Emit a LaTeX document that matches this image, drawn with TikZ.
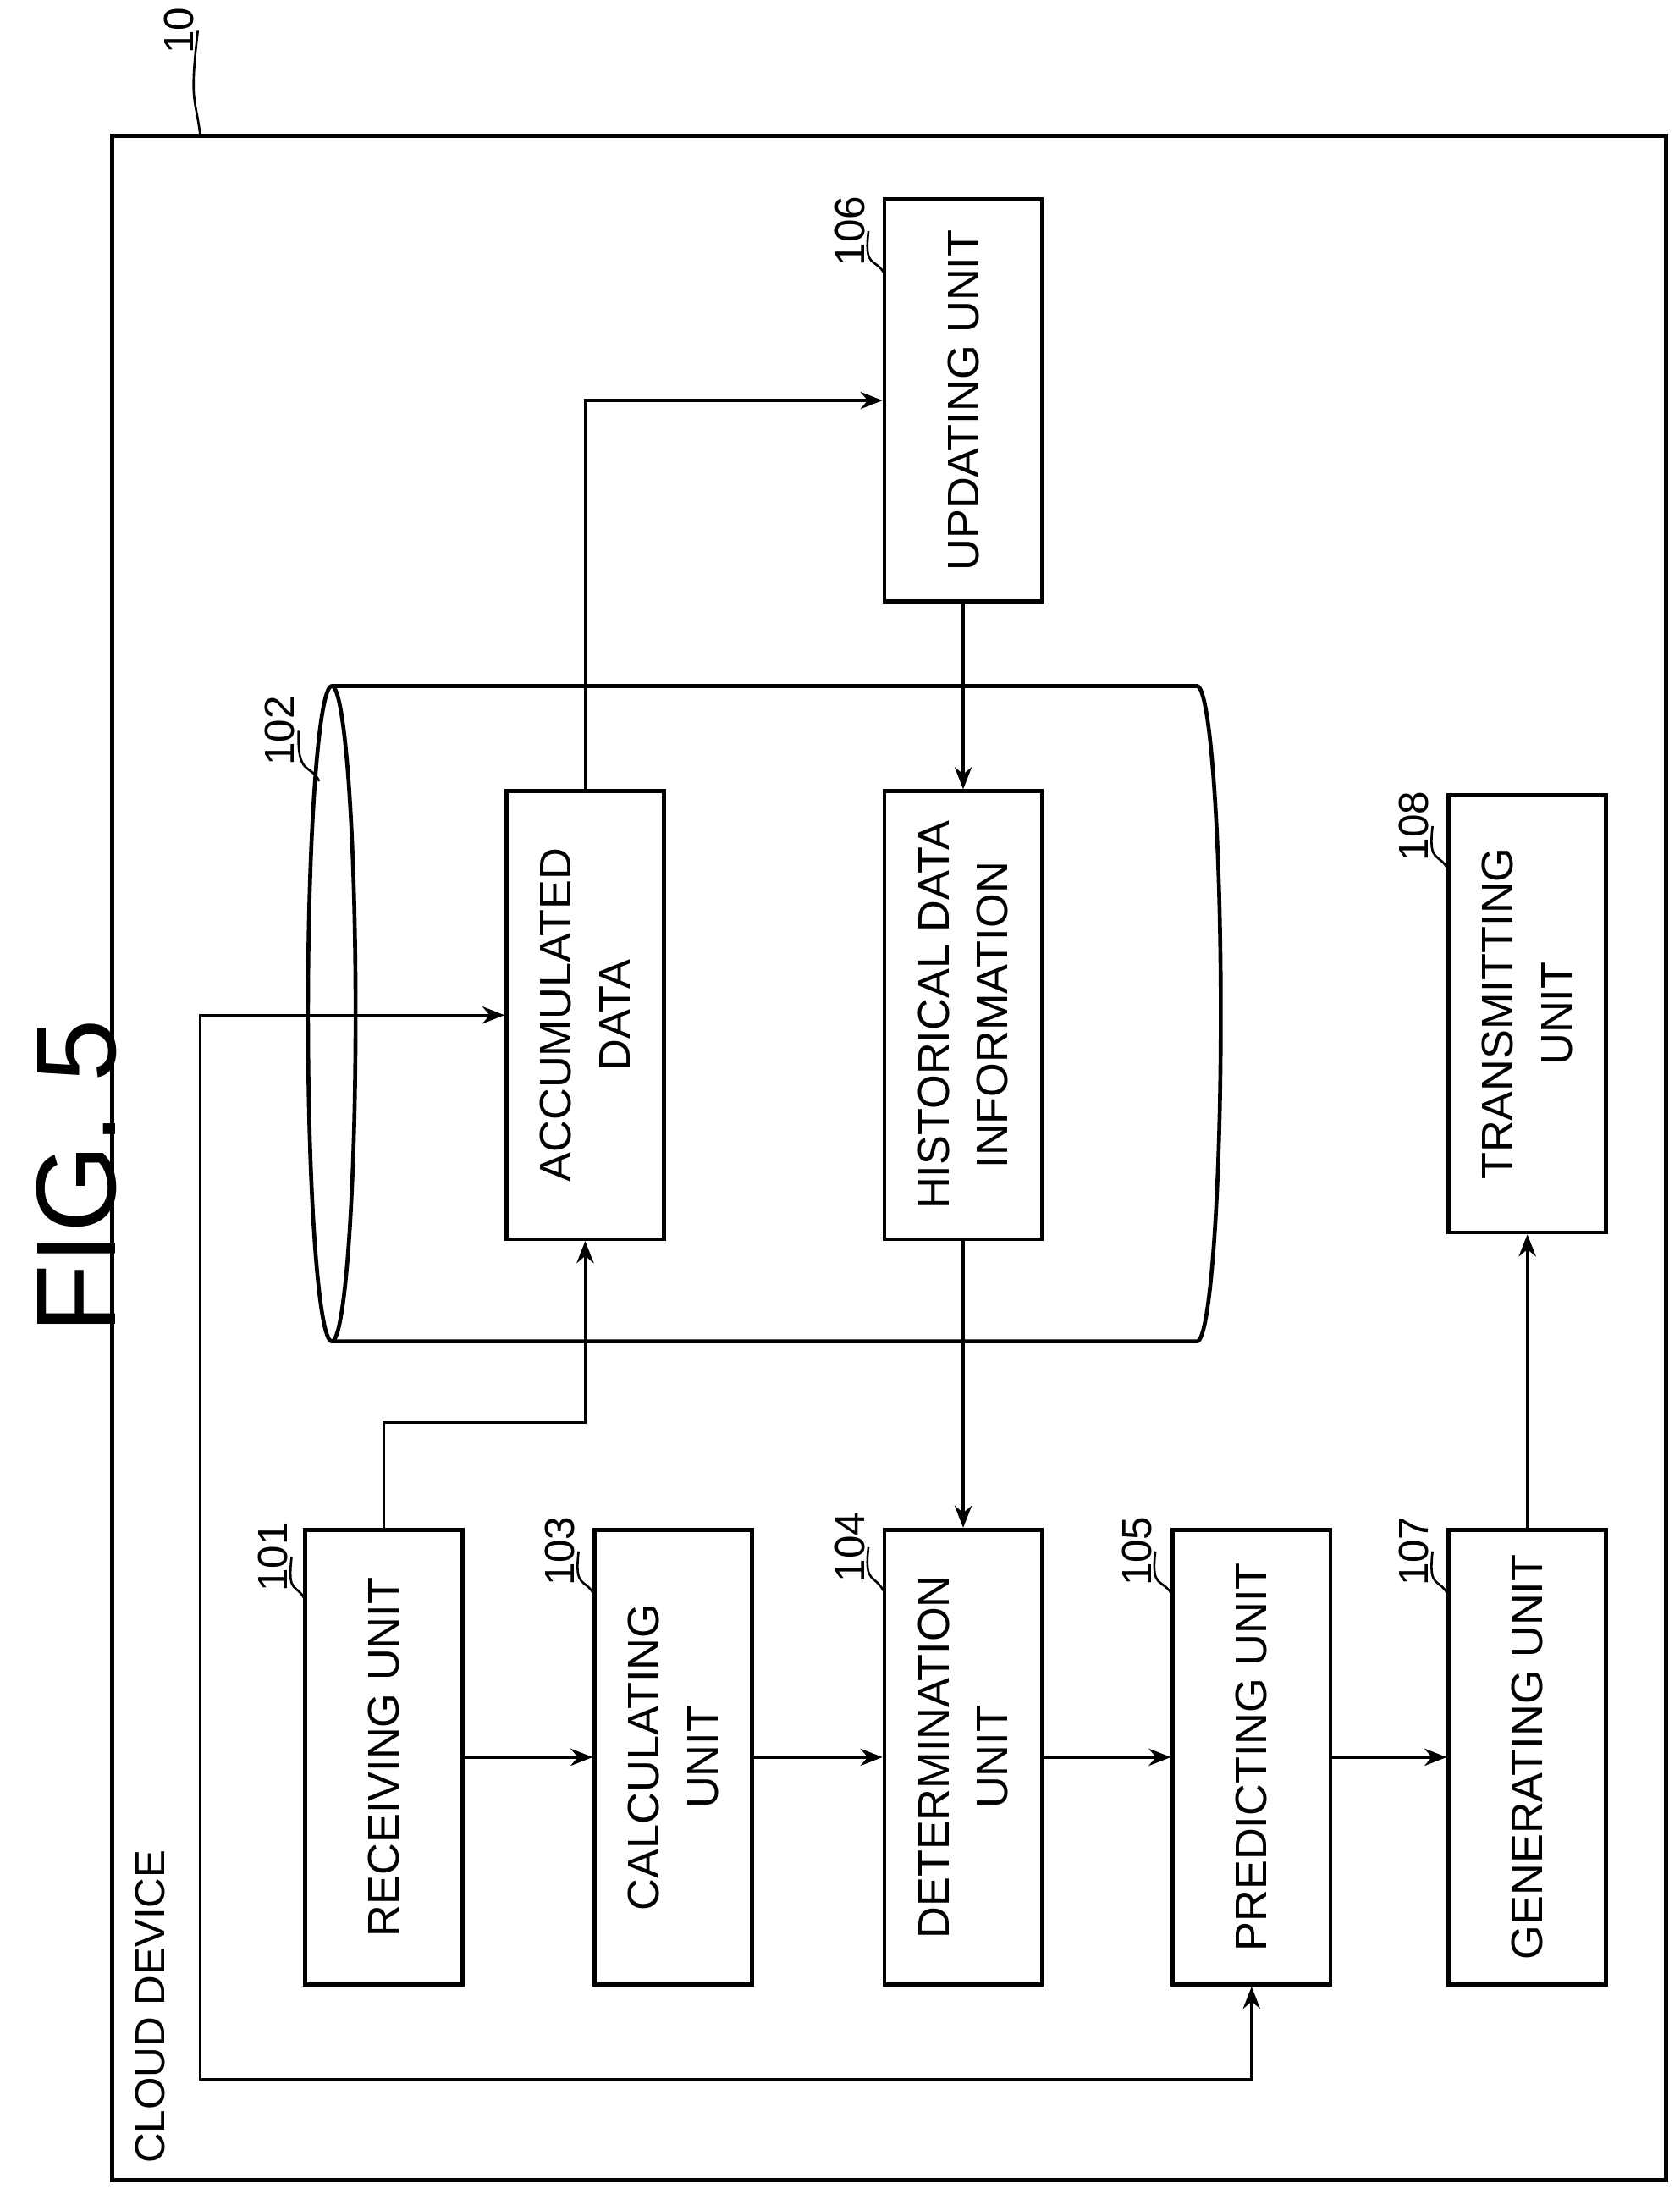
\documentclass[tikz,border=0pt]{standalone}
\usepackage{fontspec}
\setmainfont{Liberation Sans}
\usetikzlibrary{arrows.meta}

\begin{document}
\begin{tikzpicture}[x=0.02cm, y=-0.02cm, line width=1.1pt]
    % Define styles
    \tikzset{
        unit/.style={draw, rectangle, rotate=90, line width=1.6pt, inner sep=0pt, align=center,
            minimum width=6.5cm, minimum height=2.25cm, font=\fontsize{18}{24}\selectfont},
        flow/.style={-{Stealth[length=9pt, width=7pt]}},
        refnum/.style={rotate=90, font=\fontsize{17}{18}\selectfont, inner sep=1pt},
        leader/.style={line width=0.9pt}
    }
    \useasboundingbox (0,0) rectangle (1200,1567);

    % Title and outer frame
    \node (title) [rotate=90, font=\fontsize{46}{50}\selectfont] at (55,840) {FIG. 5};
    \node (cloud) [draw, rectangle, line width=1.6pt, minimum width=22.2cm, minimum height=29.2cm] at (635,827) {};
    \node (cloudlbl) [rotate=90, anchor=west, font=\fontsize{17}{20}\selectfont] at (107,1552) {CLOUD DEVICE};

    % Storage cylinder
    \draw[line width=1.6pt] (237,724) ellipse [x radius=17, y radius=234];
    \draw[line width=1.6pt] (237,490) -- (855,490) arc[start angle=-90, end angle=90, x radius=17, y radius=234] -- (237,958);

    % UNITS
    \node (rec) [unit] at (274,1255) {RECEIVING UNIT};
    \node (calc) [unit] at (481,1255) {CALCULATING\\UNIT};
    \node (det) [unit] at (688,1255) {DETERMINATION\\UNIT};
    \node (pred) [unit] at (894,1255) {PREDICTING UNIT};
    \node (gen) [unit] at (1091,1255) {GENERATING UNIT};
    \node (trans) [unit, minimum width=6.25cm] at (1091,724) {TRANSMITTING\\UNIT};
    \node (acc) [unit, minimum width=6.4cm] at (418,725) {ACCUMULATED\\DATA};
    \node (hist) [unit, minimum width=6.4cm] at (688,725) {HISTORICAL DATA\\INFORMATION};
    \node (upd) [unit, minimum width=5.75cm] at (688,286) {UPDATING UNIT};

    % Reference numerals
    \node (n10) [refnum] at (128,22) {10};
    \node (n101) [refnum] at (195,1112) {101};
    \node (n102) [refnum] at (200,522) {102};
    \node (n103) [refnum] at (400,1108) {103};
    \node (n104) [refnum] at (607,1105) {104};
    \node (n105) [refnum] at (812,1108) {105};
    \node (n106) [refnum] at (607,165) {106};
    \node (n107) [refnum] at (1010,1108) {107};
    \node (n108) [refnum] at (1010,590) {108};
    \draw[leader] (n10.south) .. controls (135,75) and (140,70) .. (143,97);
    \draw[leader] (n101.south) .. controls (205,1140) and (212,1130) .. (218,1143);
    \draw[leader] (n102.south) .. controls (212,555) and (222,545) .. (228,558);
    \draw[leader] (n103.south) .. controls (410,1136) and (418,1126) .. (425,1140);
    \draw[leader] (n104.south) .. controls (617,1133) and (625,1123) .. (632,1138);
    \draw[leader] (n105.south) .. controls (822,1136) and (830,1126) .. (838,1140);
    \draw[leader] (n106.south) .. controls (617,193) and (625,183) .. (632,196);
    \draw[leader] (n107.south) .. controls (1020,1136) and (1028,1126) .. (1035,1140);
    \draw[leader] (n108.south) .. controls (1020,618) and (1028,608) .. (1035,622);

    % CONNECTIONS
    \draw[flow] (rec) -- (calc);
    \draw[flow] (calc) -- (det);
    \draw[flow] (det) -- (pred);
    \draw[flow] (pred) -- (gen);
    \draw[flow] (gen) -- (trans);
    \draw[flow] (rec.east) -- ++(0,-75) -| (acc.west);
    \draw[flow] (acc.east) |- (upd.north);
    \draw[flow] (upd) -- (hist);
    \draw[flow] (hist) -- (det);

    % Feedback line
    \coordinate (fb) at (143,1485);
    \draw[{Stealth[length=9pt, width=7pt]}-{Stealth[length=9pt, width=7pt]}] (acc.north) -| (fb) -| (pred.west);
\end{tikzpicture}
\end{document}
